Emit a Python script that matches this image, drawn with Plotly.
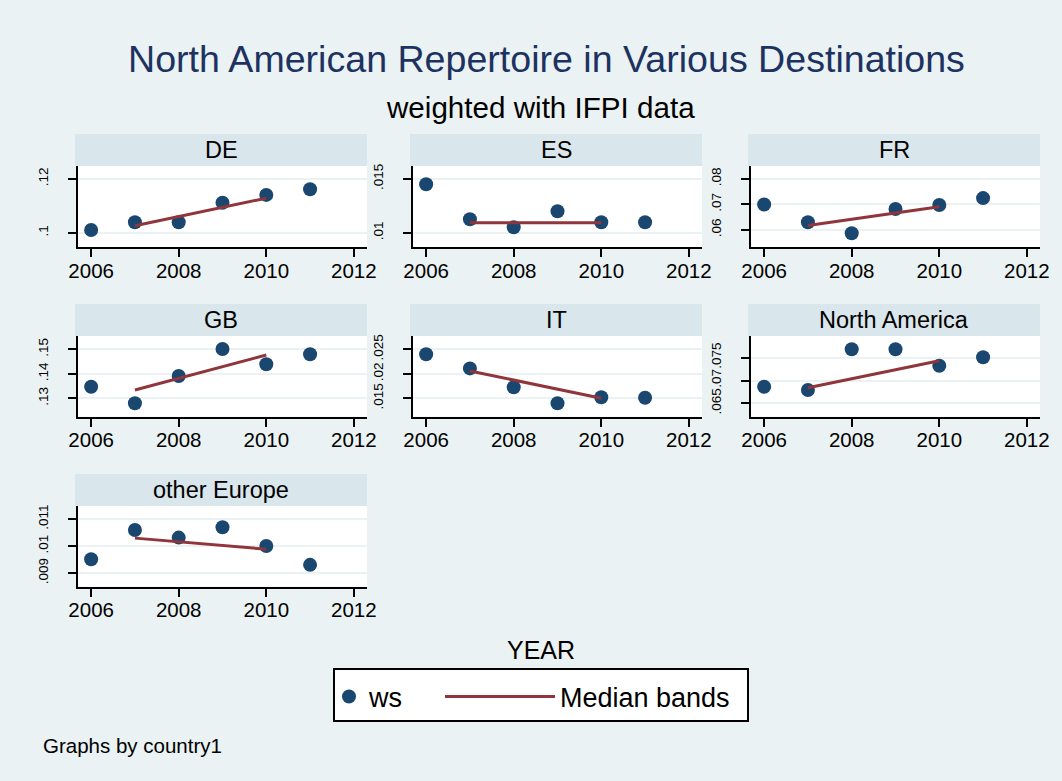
import plotly.graph_objects as go

W, H = 1062, 781

years = [2006, 2007, 2008, 2009, 2010, 2011]
band_years = [2007, 2010]
panels = ["DE", "ES", "FR", "GB", "IT", "North America", "other Europe"]

ws_DE = [0.1011, 0.1040, 0.1040, 0.1112, 0.1141, 0.1162]
ws_ES = [0.01451, 0.01127, 0.01053, 0.01201, 0.01099, 0.01099]
ws_FR = [0.0700, 0.0630, 0.0587, 0.0682, 0.0698, 0.0725]
ws_GB = [0.1347, 0.1280, 0.1391, 0.1501, 0.1439, 0.1480]
ws_IT = [0.02398, 0.0211, 0.01724, 0.01398, 0.0152, 0.01512]
ws_NA = [0.06864, 0.06792, 0.07684, 0.07684, 0.07325, 0.07509]
ws_OE = [0.009519, 0.0106, 0.01032, 0.0107, 0.01001, 0.00931]

med_DE = [0.1027, 0.1129]
med_ES = [0.01095, 0.01095]
med_FR = [0.0617, 0.0691]
med_GB = [0.1334, 0.1477]
med_IT = [0.02057, 0.0150]
med_NA = [0.06842, 0.07434]
med_OE = [0.0103, 0.00989]

x_ticks = [2006, 2008, 2010, 2012]
yt_DE = [0.10, 0.12];         yl_DE = [".1", ".12"]
yt_ES = [0.010, 0.015];       yl_ES = [".01", ".015"]
yt_FR = [0.06, 0.07, 0.08];   yl_FR = [".06", ".07", ".08"]
yt_GB = [0.13, 0.14, 0.15];   yl_GB = [".13", ".14", ".15"]
yt_IT = [0.015, 0.02, 0.025]; yl_IT = [".015", ".02", ".025"]
yt_NA = [0.065, 0.07, 0.075]; yl_NA = [".065", ".07", ".075"]
yt_OE = [0.009, 0.01, 0.011]; yl_OE = [".009", ".01", ".011"]

ws_all = [ws_DE, ws_ES, ws_FR, ws_GB, ws_IT, ws_NA, ws_OE]
med_all = [med_DE, med_ES, med_FR, med_GB, med_IT, med_NA, med_OE]
yt_all = [yt_DE, yt_ES, yt_FR, yt_GB, yt_IT, yt_NA, yt_OE]
yl_all = [yl_DE, yl_ES, yl_FR, yl_GB, yl_IT, yl_NA, yl_OE]
yr_all = [[0.09481, 0.12481], [0.0087, 0.0162], [0.0533, 0.0851],
          [0.1225, 0.15543], [0.01124, 0.02771], [0.06206, 0.07976],
          [0.0085, 0.01149]]

# layout geometry (pixels)
col_x = [(78, 367), (413, 702), (751, 1040)]
row_y = [(166, 247), (336, 416.7), (506, 586.7)]
strip_h = 32

NAVY = "#1A476F"
MAROON = "#90353B"
BG = "#EAF2F3"
STRIP = "#D9E6EB"
FONT = "Liberation Sans, Arial, sans-serif"

fig = go.Figure()
shapes = []
annotations = []
layout_axes = {}

for i, name in enumerate(panels):
    r, c = divmod(i, 3)
    x0, x1 = col_x[c]
    y0, y1 = row_y[r]
    k = i + 1
    xa = "x" if k == 1 else f"x{k}"
    ya = "y" if k == 1 else f"y{k}"
    fig.add_trace(go.Scatter(
        x=years, y=ws_all[i], mode="markers", name="ws",
        marker=dict(color=NAVY, size=14), xaxis=xa, yaxis=ya,
        legend="legend", legendgroup="ws", showlegend=(i == 0)))
    fig.add_trace(go.Scatter(
        x=band_years, y=med_all[i], mode="lines", name="Median bands",
        line=dict(color=MAROON, width=3), xaxis=xa, yaxis=ya,
        legend="legend2", legendgroup="mb", showlegend=(i == 0)))
    layout_axes["xaxis" if k == 1 else f"xaxis{k}"] = dict(
        domain=[x0 / W, x1 / W], anchor=ya, range=[2005.7, 2012.3],
        tickvals=x_ticks, ticks="outside", ticklen=8, tickwidth=2,
        tickcolor="black", showline=True, linecolor="black", linewidth=2,
        showgrid=False, zeroline=False, ticklabelstandoff=-4,
        automargin=False,
        tickfont=dict(size=20.5, color="black", family=FONT))
    layout_axes["yaxis" if k == 1 else f"yaxis{k}"] = dict(
        domain=[1 - y1 / H, 1 - y0 / H], anchor=xa, range=yr_all[i],
        tickvals=yt_all[i], ticktext=yl_all[i], tickangle=-90,
        ticks="outside", ticklen=8, tickwidth=2, tickcolor="black",
        showline=True, linecolor="black", linewidth=2,
        showgrid=True, gridcolor=BG, gridwidth=2, zeroline=False,
        ticklabelstandoff=15, automargin=False,
        tickfont=dict(size=13.5, color="black", family=FONT))
    shapes.append(dict(type="rect", xref="paper", yref="paper",
                       x0=(x0 - 3) / W, x1=x1 / W,
                       y0=1 - y0 / H, y1=1 - (y0 - strip_h) / H,
                       fillcolor=STRIP, line=dict(width=0), layer="below"))
    annotations.append(dict(text=name, xref="paper", yref="paper",
                            x=(x0 - 3 + x1) / 2 / W, y=1 - (y0 - strip_h / 2) / H,
                            xanchor="center", yanchor="middle", showarrow=False,
                            font=dict(size=23.5, color="black", family=FONT)))

# legend box
shapes.append(dict(type="rect", xref="paper", yref="paper",
                   x0=334 / W, x1=748 / W, y0=1 - 721 / H, y1=1 - 669 / H,
                   fillcolor="white", line=dict(color="black", width=2),
                   layer="below"))

annotations += [
    dict(text="weighted with IFPI data", xref="paper", yref="paper",
         x=540.5 / W, y=1 - 108 / H, xanchor="center", yanchor="middle",
         showarrow=False, font=dict(size=29.6, color="black", family=FONT)),
    dict(text="YEAR", xref="paper", yref="paper",
         x=541 / W, y=1 - 650 / H, xanchor="center", yanchor="middle",
         showarrow=False, font=dict(size=25, color="black", family=FONT)),
    dict(text="Graphs by country1", xref="paper", yref="paper",
         x=41 / W, y=1 - 745 / H, xanchor="left", yanchor="middle",
         showarrow=False, font=dict(size=20.5, color="black", family=FONT)),
]

fig.update_layout(
    width=W, height=H, margin=dict(l=0, r=0, t=0, b=0),
    paper_bgcolor=BG, plot_bgcolor="white",
    font=dict(family=FONT, color="black"),
    title=dict(text="North American Repertoire in Various Destinations",
               x=546.5 / W, xanchor="center", y=1 - 59 / H, yanchor="middle",
               font=dict(size=37.6, color="#1E3262", family=FONT)),
    legend=dict(x=329 / W, y=1 - 697 / H, xanchor="left", yanchor="middle",
                orientation="h", bgcolor="rgba(0,0,0,0)", borderwidth=0,
                font=dict(size=27, color="black", family=FONT)),
    legend2=dict(x=440 / W, y=1 - 697 / H, xanchor="left", yanchor="middle",
                 orientation="h", bgcolor="rgba(0,0,0,0)", borderwidth=0,
                 itemwidth=110,
                 font=dict(size=27, color="black", family=FONT)),
    shapes=shapes, annotations=annotations, showlegend=True,
    **layout_axes,
)

fig.write_html("out.html", config={"displayModeBar": False},
               post_script="document.body.style.margin='0px';")
